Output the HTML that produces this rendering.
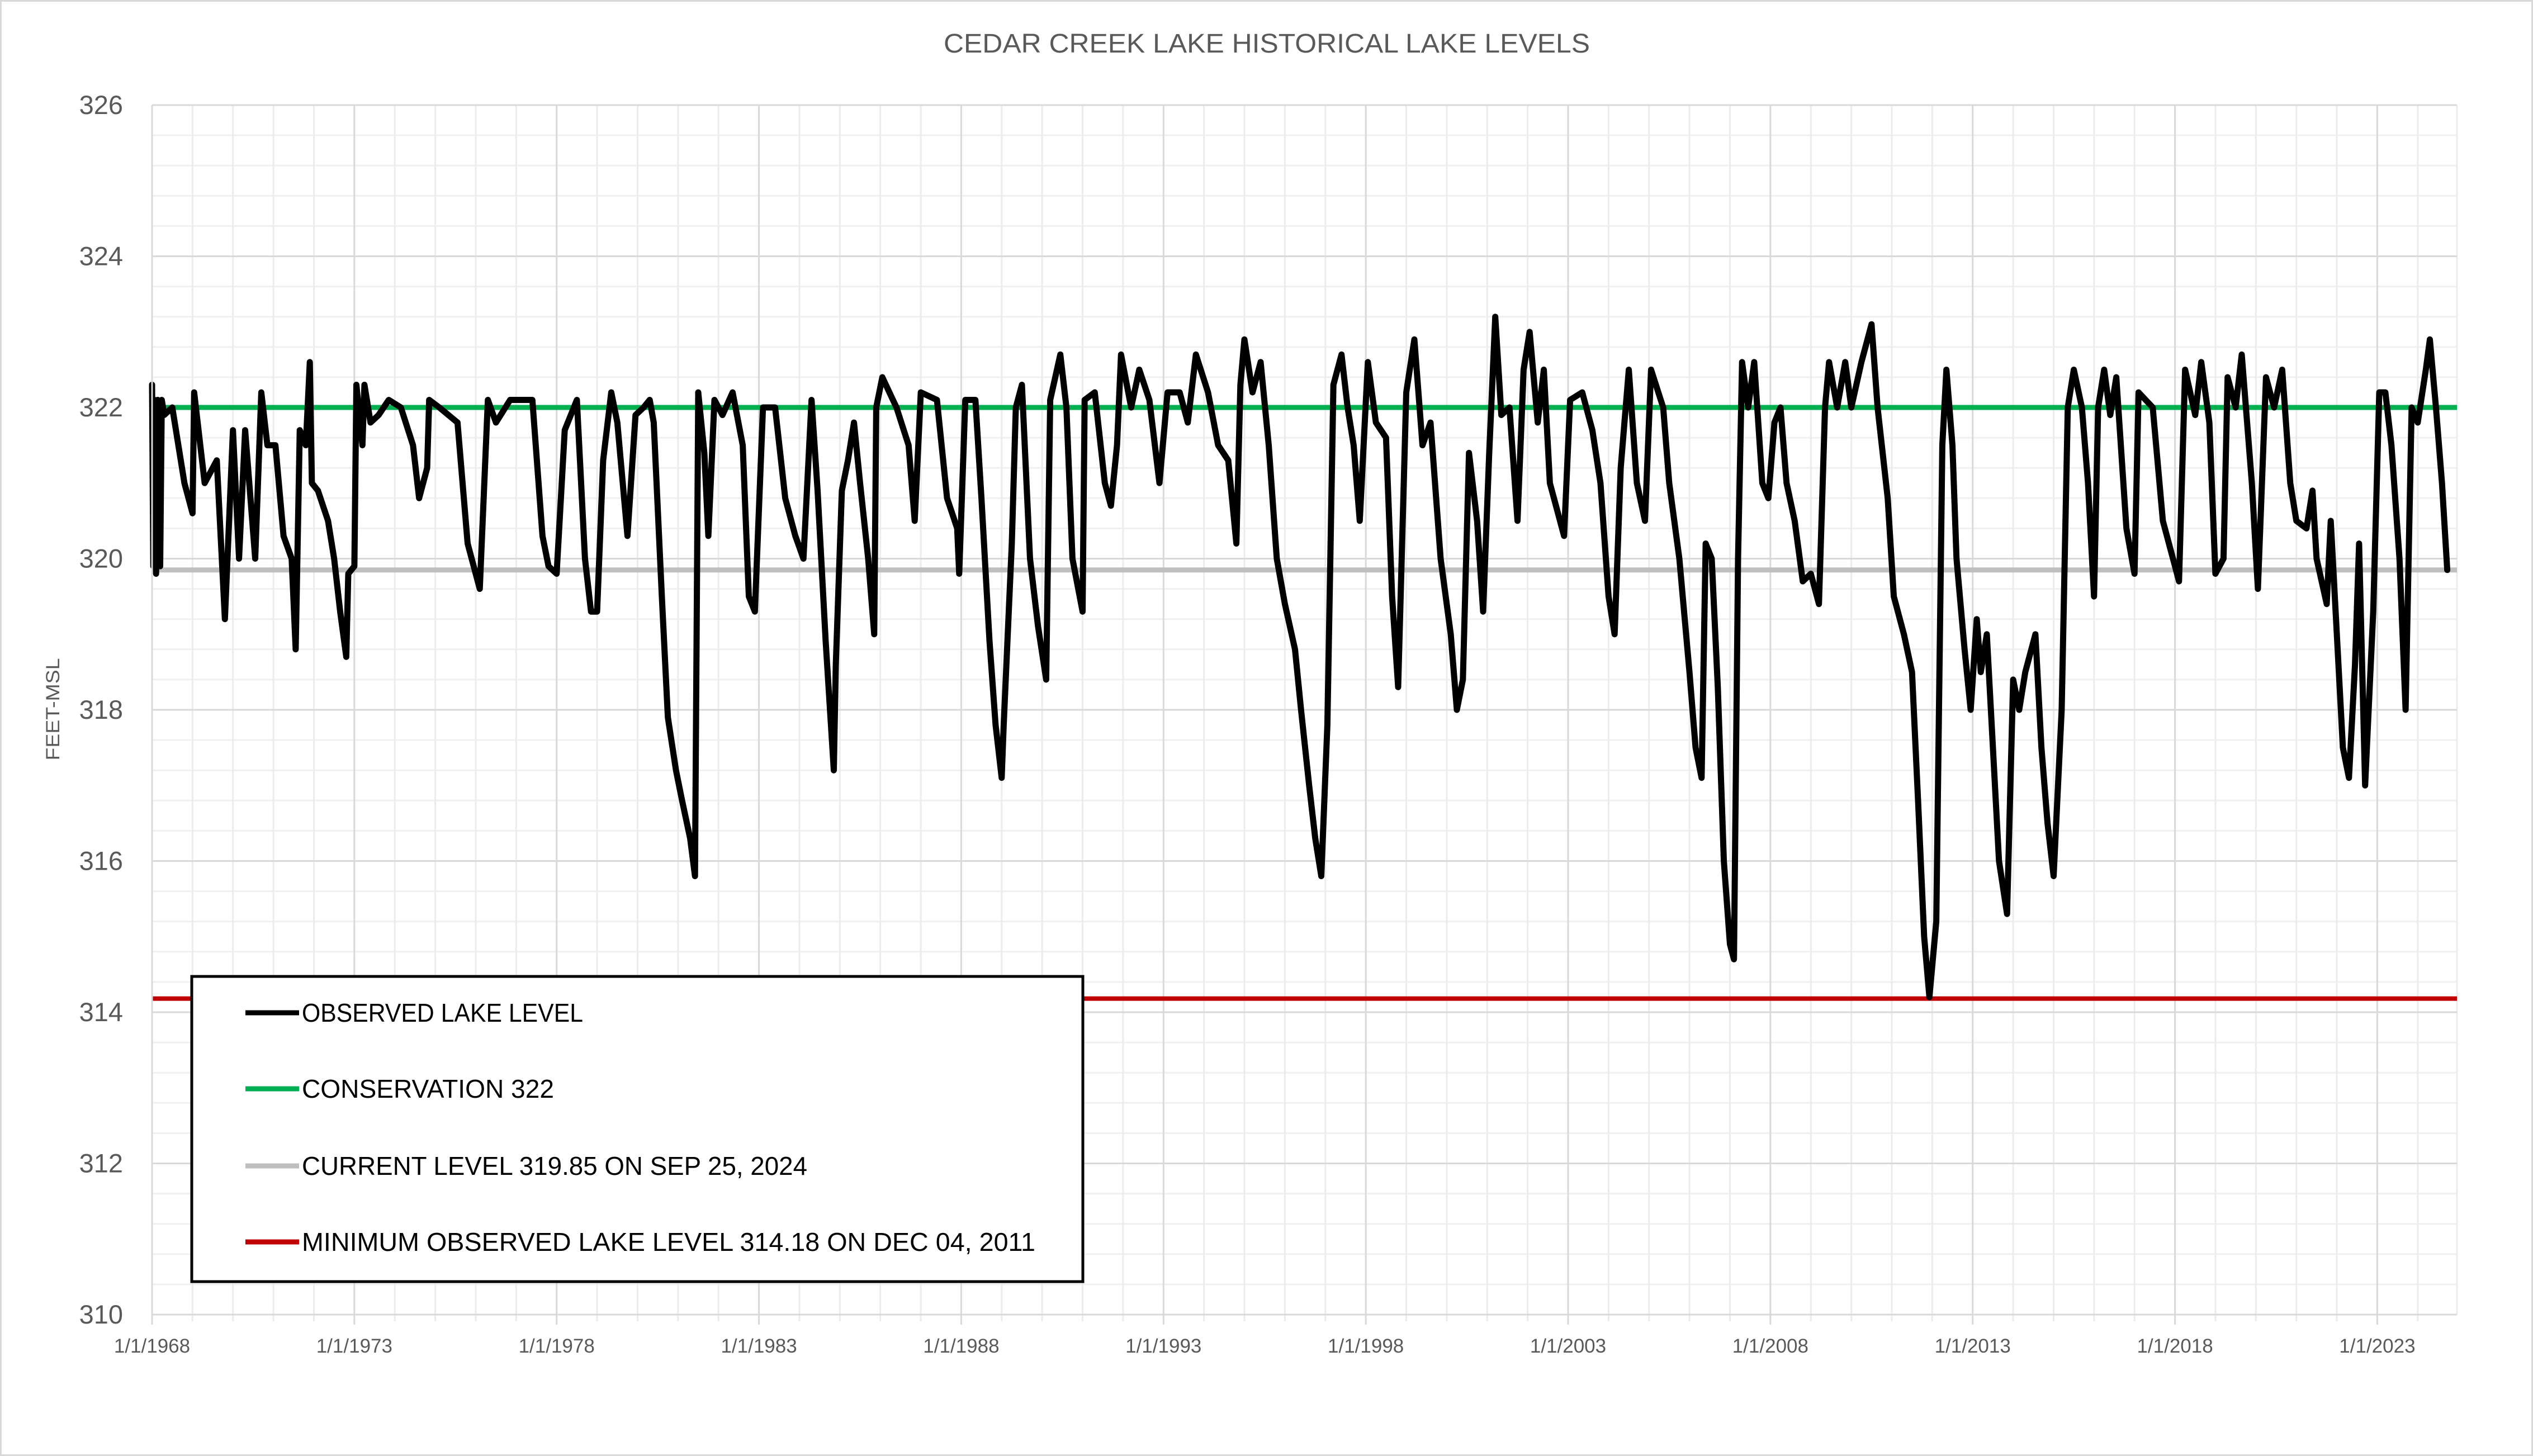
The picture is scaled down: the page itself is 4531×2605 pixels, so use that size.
<!DOCTYPE html>
<html><head><meta charset="utf-8"><style>
html,body{margin:0;padding:0;background:#fff}
svg{display:block;font-family:"Liberation Sans",sans-serif}
</style></head><body>
<svg id="chart" width="4531" height="2605" viewBox="0 0 4531 2605" xmlns="http://www.w3.org/2000/svg">
<rect x="1.5" y="1.5" width="4528" height="2602" fill="#fff" stroke="#d9d9d9" stroke-width="3"/>
<text x="2266" y="94" text-anchor="middle" font-size="48" fill="#595959" textLength="1156" lengthAdjust="spacingAndGlyphs">CEDAR CREEK LAKE HISTORICAL LAKE LEVELS</text>
<g id="grid"></g>
<g id="refs"></g>
<g id="series"></g>
<g id="axes"></g>
<text transform="translate(106,1269) rotate(-90)" text-anchor="middle" font-size="34" fill="#595959" textLength="183" lengthAdjust="spacingAndGlyphs">FEET-MSL</text>
<g>
<rect x="343" y="1747" width="1594" height="546" fill="#fff" stroke="#000" stroke-width="5"/>
<line x1="439" y1="1812" x2="535" y2="1812" stroke="#000" stroke-width="9"/>
<text x="540" y="1828" font-size="46" fill="#000" textLength="503" lengthAdjust="spacingAndGlyphs">OBSERVED LAKE LEVEL</text>
<line x1="439" y1="1948" x2="535" y2="1948" stroke="#00b050" stroke-width="9"/>
<text x="540" y="1964" font-size="46" fill="#000" textLength="451" lengthAdjust="spacingAndGlyphs">CONSERVATION 322</text>
<line x1="439" y1="2086" x2="535" y2="2086" stroke="#bfbfbf" stroke-width="9"/>
<text x="540" y="2102" font-size="46" fill="#000" textLength="904" lengthAdjust="spacingAndGlyphs">CURRENT LEVEL 319.85 ON SEP 25, 2024</text>
<line x1="439" y1="2222" x2="535" y2="2222" stroke="#c00000" stroke-width="9"/>
<text x="540" y="2238" font-size="46" fill="#000" textLength="1312" lengthAdjust="spacingAndGlyphs">MINIMUM OBSERVED LAKE LEVEL 314.18 ON DEC 04, 2011</text>
</g>
</svg>
<script>
// ---- data ----
const yTicks = [310, 312, 314, 316, 318, 320, 322, 324, 326];
const xTickYears = [1968, 1973, 1978, 1983, 1988, 1993, 1998, 2003, 2008, 2013, 2018, 2023];
const xTickLabels = ["1/1/1968","1/1/1973","1/1/1978","1/1/1983","1/1/1988","1/1/1993","1/1/1998","1/1/2003","1/1/2008","1/1/2013","1/1/2018","1/1/2023"];
const conservationLevel = 322;
const currentLevel = 319.85;
const minimumLevel = 314.18;
const dates = [1968.0,1968.03,1968.06,1968.1,1968.14,1968.2,1968.24,1968.3,1968.5,1968.8,1969.0,1969.04,1969.3,1969.6,1969.8,1970.0,1970.15,1970.3,1970.55,1970.7,1970.85,1971.05,1971.25,1971.45,1971.55,1971.65,1971.8,1971.9,1971.95,1972.1,1972.35,1972.5,1972.65,1972.8,1972.85,1973.0,1973.05,1973.2,1973.25,1973.4,1973.6,1973.85,1974.15,1974.45,1974.6,1974.8,1974.85,1975.1,1975.55,1975.8,1976.1,1976.3,1976.5,1976.85,1977.4,1977.65,1977.8,1978.0,1978.2,1978.5,1978.7,1978.85,1979.0,1979.15,1979.35,1979.5,1979.75,1979.95,1980.15,1980.3,1980.4,1980.6,1980.75,1980.95,1981.1,1981.3,1981.42,1981.5,1981.65,1981.75,1981.9,1982.1,1982.35,1982.6,1982.75,1982.9,1983.1,1983.4,1983.65,1983.9,1984.1,1984.3,1984.45,1984.65,1984.85,1984.9,1985.05,1985.2,1985.35,1985.5,1985.7,1985.85,1985.9,1986.05,1986.4,1986.7,1986.85,1987.0,1987.4,1987.65,1987.9,1987.95,1988.1,1988.35,1988.5,1988.7,1988.85,1989.0,1989.05,1989.25,1989.35,1989.5,1989.7,1989.9,1990.1,1990.2,1990.45,1990.6,1990.75,1991.0,1991.05,1991.3,1991.55,1991.7,1991.85,1991.95,1992.2,1992.4,1992.65,1992.9,1993.1,1993.4,1993.6,1993.8,1994.1,1994.35,1994.6,1994.8,1994.9,1995.0,1995.2,1995.4,1995.6,1995.8,1996.0,1996.25,1996.4,1996.6,1996.75,1996.9,1997.05,1997.2,1997.4,1997.55,1997.7,1997.85,1998.05,1998.25,1998.5,1998.65,1998.8,1999.0,1999.2,1999.4,1999.6,1999.85,2000.1,2000.25,2000.4,2000.55,2000.75,2000.9,2001.05,2001.2,2001.35,2001.55,2001.75,2001.9,2002.05,2002.25,2002.4,2002.55,2002.75,2002.9,2003.05,2003.35,2003.6,2003.8,2004.0,2004.15,2004.3,2004.5,2004.7,2004.9,2005.05,2005.35,2005.5,2005.75,2006.0,2006.15,2006.3,2006.4,2006.55,2006.7,2006.85,2007.0,2007.1,2007.2,2007.3,2007.45,2007.6,2007.8,2007.95,2008.1,2008.25,2008.4,2008.6,2008.8,2009.0,2009.2,2009.35,2009.45,2009.65,2009.85,2010.0,2010.25,2010.5,2010.65,2010.9,2011.05,2011.3,2011.5,2011.65,2011.8,2011.93,2012.1,2012.25,2012.35,2012.5,2012.6,2012.8,2012.95,2013.1,2013.2,2013.35,2013.5,2013.65,2013.85,2014.0,2014.15,2014.3,2014.55,2014.7,2014.85,2015.0,2015.2,2015.35,2015.5,2015.7,2015.85,2016.0,2016.1,2016.25,2016.4,2016.55,2016.8,2017.0,2017.1,2017.45,2017.7,2017.95,2018.1,2018.25,2018.5,2018.65,2018.85,2019.0,2019.2,2019.3,2019.5,2019.65,2019.9,2020.05,2020.25,2020.45,2020.65,2020.85,2021.0,2021.25,2021.4,2021.5,2021.75,2021.85,2022.0,2022.15,2022.3,2022.45,2022.55,2022.7,2022.9,2023.05,2023.2,2023.35,2023.55,2023.7,2023.85,2024.0,2024.2,2024.3,2024.45,2024.6,2024.73];
const levels = [322.3,319.9,322.1,319.8,322.1,319.9,322.1,321.9,322.0,321.0,320.6,322.2,321.0,321.3,319.2,321.7,320.0,321.7,320.0,322.2,321.5,321.5,320.3,320.0,318.8,321.7,321.5,322.6,321.0,320.9,320.5,320.0,319.3,318.7,319.8,319.9,322.3,321.5,322.3,321.8,321.9,322.1,322.0,321.5,320.8,321.2,322.1,322.0,321.8,320.2,319.6,322.1,321.8,322.1,322.1,320.3,319.9,319.8,321.7,322.1,320.0,319.3,319.3,321.3,322.2,321.8,320.3,321.9,322.0,322.1,321.8,319.5,317.9,317.2,316.8,316.3,315.8,322.2,321.4,320.3,322.1,321.9,322.2,321.5,319.5,319.3,322.0,322.0,320.8,320.3,320.0,322.1,320.9,318.9,317.2,318.6,320.9,321.3,321.8,321.0,320.0,319.0,322.0,322.4,322.0,321.5,320.5,322.2,322.1,320.8,320.4,319.8,322.1,322.1,320.8,318.9,317.8,317.1,317.8,320.2,322.0,322.3,320.0,319.1,318.4,322.1,322.7,322.0,320.0,319.3,322.1,322.2,321.0,320.7,321.5,322.7,322.0,322.5,322.1,321.0,322.2,322.2,321.8,322.7,322.2,321.5,321.3,320.2,322.3,322.9,322.2,322.6,321.5,320.0,319.4,318.8,318.0,317.0,316.3,315.8,317.8,322.3,322.7,322.0,321.5,320.5,322.6,321.8,321.6,319.5,318.3,322.2,322.9,321.5,321.8,320.0,319.0,318.0,318.4,321.4,320.5,319.3,321.4,323.2,321.9,322.0,320.5,322.5,323.0,321.8,322.5,321.0,320.6,320.3,322.1,322.2,321.7,321.0,319.5,319.0,321.2,322.5,321.0,320.5,322.5,322.0,321.0,320.0,318.5,317.5,317.1,320.2,320.0,318.3,316.0,314.9,314.7,320.0,322.6,322.0,322.6,321.0,320.8,321.8,322.0,321.0,320.5,319.7,319.8,319.4,322.0,322.6,322.0,322.6,322.0,322.6,323.1,322.0,320.8,319.5,319.0,318.5,316.8,315.0,314.2,315.2,321.5,322.5,321.5,320.0,318.8,318.0,319.2,318.5,319.0,317.5,316.0,315.3,318.4,318.0,318.5,319.0,317.5,316.5,315.8,318.0,322.0,322.5,322.0,321.0,319.5,322.0,322.5,321.9,322.4,320.4,319.8,322.2,322.0,320.5,320.0,319.7,322.5,321.9,322.6,321.8,319.8,320.0,322.4,322.0,322.7,321.0,319.6,322.4,322.0,322.5,321.0,320.5,320.4,320.9,320.0,319.4,320.5,319.0,317.5,317.1,318.6,320.2,317.0,319.3,322.2,322.2,321.5,320.0,318.0,322.0,321.8,322.5,322.9,322.0,321.0,319.85];

// ---- scales ----
const L = 272, R = 4395, T = 188, B = 2352;
const X0 = 1968, X1 = 2024.97, Y0 = 310, Y1 = 326;
const xs = v => L + (v - X0) / (X1 - X0) * (R - L);
const ys = v => B - (v - Y0) / (Y1 - Y0) * (B - T);
const NS = "http://www.w3.org/2000/svg";
function mk(tag, attrs, parent) {
  const e = document.createElementNS(NS, tag);
  for (const k in attrs) e.setAttribute(k, attrs[k]);
  parent.appendChild(e);
  return e;
}
const grid = document.getElementById("grid");
const axes = document.getElementById("axes");
const refs = document.getElementById("refs");
const series = document.getElementById("series");

for (let v = Y0; v <= Y1 + 1e-6; v += 0.4) {
  const major = Math.abs(v / 2 - Math.round(v / 2)) < 1e-6;
  if (major) continue;
  const ln = mk("line", {x1: L, x2: R, y1: ys(v), y2: ys(v), stroke: "#f0f0f0", "stroke-width": 3}, grid);
  
  
}
for (let yr = X0 + 1; yr < X1; yr++) {
  if ((yr - X0) % 5 === 0) continue;
  const ln = mk("line", {x1: xs(yr), x2: xs(yr), y1: T, y2: B + 12, stroke: "#ececec", "stroke-width": 3}, grid);
  
  
}
xTickYears.forEach((yr, i) => {
  const ln = mk("line", {x1: xs(yr), x2: xs(yr), y1: T, y2: B + 18, stroke: "#d9d9d9", "stroke-width": 3}, grid);
  
  
  const t = mk("text", {x: xs(yr), y: B + 68, "text-anchor": "middle", "font-size": 35, fill: "#595959"}, axes);
  t.textContent = xTickLabels[i];
  
  
});
const rl = mk("line", {x1: R, x2: R, y1: T, y2: B, stroke: "#ececec", "stroke-width": 3}, grid);


yTicks.forEach(v => {
  const ln = mk("line", {x1: L, x2: R, y1: ys(v), y2: ys(v), stroke: "#d9d9d9", "stroke-width": 3}, grid);
  
  
  const t = mk("text", {x: 220, y: ys(v) + 16, "text-anchor": "end", "font-size": 47, fill: "#595959"}, axes);
  t.textContent = String(v);
  
  
});
const ya = mk("line", {x1: L, x2: L, y1: T, y2: B + 18, stroke: "#d9d9d9", "stroke-width": 3}, axes);



const cl = mk("line", {x1: L, x2: R, y1: ys(conservationLevel), y2: ys(conservationLevel), stroke: "#00b050", "stroke-width": 9}, refs);


const cu = mk("line", {x1: L, x2: R, y1: ys(currentLevel), y2: ys(currentLevel), stroke: "#bfbfbf", "stroke-width": 9}, refs);


const mn = mk("line", {x1: L, x2: R, y1: ys(minimumLevel), y2: ys(minimumLevel), stroke: "#c00000", "stroke-width": 8}, refs);



const d = dates.map((t, i) => (i ? "L" : "M") + xs(t).toFixed(1) + "," + ys(levels[i]).toFixed(1)).join(" ");
const p = mk("path", {d: d, fill: "none", stroke: "#000", "stroke-width": 11, "stroke-linejoin": "round", "stroke-linecap": "round"}, series);


</script>
</body></html>
